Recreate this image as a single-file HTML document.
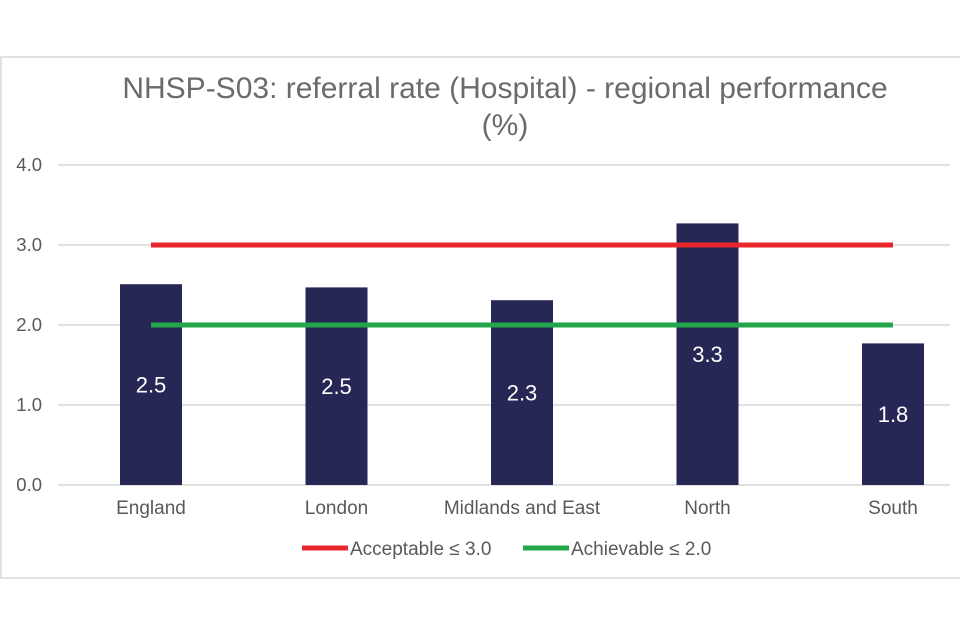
<!DOCTYPE html>
<html><head><meta charset="utf-8"><style>
html,body{margin:0;padding:0;background:#fff;width:960px;height:640px;overflow:hidden}
svg text{font-family:"Liberation Sans",sans-serif}
</style></head><body>
<svg id="chart" width="960" height="640">
<rect x="1" y="57" width="970" height="521" fill="#fff" stroke="#d9d9d9" stroke-width="1.5"/>
<text x="505" y="98" font-size="30" fill="#6b6b6b" text-anchor="middle">NHSP-S03: referral rate (Hospital) - regional performance</text>
<text x="505" y="135" font-size="30" fill="#6b6b6b" text-anchor="middle">(%)</text>
<g id="grid"></g><g id="bars"></g><g id="lines"></g><g id="labels"></g>
<g>
<line x1="302" y1="548" x2="348" y2="548" stroke="#e8262b" stroke-width="5"/>
<text x="350" y="555" font-size="19" fill="#595959">Acceptable ≤ 3.0</text>
<line x1="523" y1="548" x2="569" y2="548" stroke="#23a64a" stroke-width="5"/>
<text x="571" y="555" font-size="19" fill="#595959">Achievable ≤ 2.0</text>
</g>
</svg>
<script>
const categories=["England","London","Midlands and East","North","South"];
const values=[2.51,2.47,2.31,3.27,1.77];
const valueLabels=["2.5","2.5","2.3","3.3","1.8"];
const ticks=[0,1,2,3,4];
const acceptable=3.0;
const achievable=2.0;
const NS="http://www.w3.org/2000/svg";
const y=v=>485-v*80;
const x=i=>151+i*185.5;
function mk(t,a,p){const e=document.createElementNS(NS,t);for(const k in a)e.setAttribute(k,a[k]);document.getElementById(p).appendChild(e);return e;}
ticks.forEach(t=>{
 const l=mk('line',{x1:58,x2:950,y1:y(t),y2:y(t),stroke:'#d9d9d9','stroke-width':1.5},'grid');
 
 
 const tx=mk('text',{x:42,y:y(t)+6,'font-size':18.5,fill:'#595959','text-anchor':'end'},'grid');
 tx.textContent=t.toFixed(1);
 
 
});
categories.forEach((c,i)=>{
 const b=mk('rect',{x:x(i)-31,y:y(values[i]),width:62,height:values[i]*80,fill:'#262755'},'bars');
 
 
 const t=mk('text',{x:x(i),y:y(values[i]/2)+8,'font-size':22,fill:'#fff','text-anchor':'middle'},'labels');
 t.textContent=valueLabels[i];
 
 
 const ct=mk('text',{x:x(i),y:514,'font-size':19,fill:'#595959','text-anchor':'middle'},'labels');
 ct.textContent=c;
 
 
});
const l1=mk('line',{x1:x(0),x2:x(categories.length-1),y1:y(acceptable),y2:y(acceptable),stroke:'#e8262b','stroke-width':5},'lines');


const l2=mk('line',{x1:x(0),x2:x(categories.length-1),y1:y(achievable),y2:y(achievable),stroke:'#23a64a','stroke-width':5},'lines');


</script>
</body></html>
